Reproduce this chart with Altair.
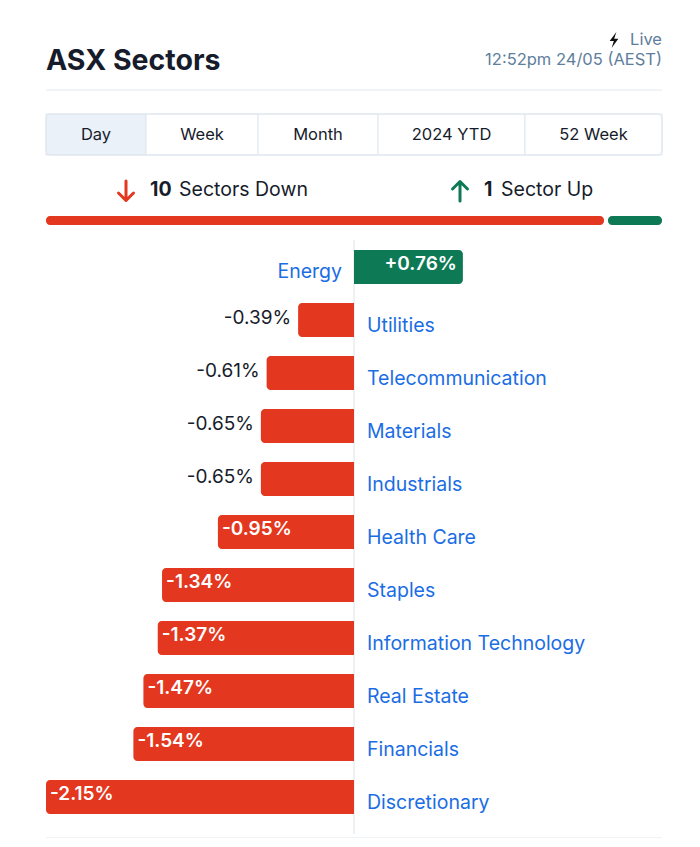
import altair as alt
import pandas as pd

# ---------------- data ----------------
sectors = ["Energy", "Utilities", "Telecommunication", "Materials", "Industrials",
           "Health Care", "Staples", "Information Technology", "Real Estate",
           "Financials", "Discretionary"]
changes = [0.76, -0.39, -0.61, -0.65, -0.65, -0.95, -1.34, -1.37, -1.47, -1.54, -2.15]
tabs = ["Day", "Week", "Month", "2024 YTD", "52 Week"]
tab_edges = [38, 138, 250, 370, 517, 654]   # layout (px)
n_down = sum(1 for v in changes if v < 0)
n_up = sum(1 for v in changes if v > 0)

RED = "#e3371f"
GREEN = "#0e7a55"
BLUE = "#1a6de3"
DARK = "#161c2b"
SLATE = "#5e7e9c"
LINE = "#e3e8ee"
FONT = "Inter"

W, H = 684, 830
LEFT, RIGHT = 38, 654

def fmt(v):
    return f"+{v:.2f}%" if v > 0 else f"{v:.2f}%"

df = pd.DataFrame({
    "sector": sectors,
    "value": changes,
    "row": list(range(len(sectors))),
    "label": [fmt(v) for v in changes],
    "zero": 0.0,
})
half = 0.32
df["y0"] = df["row"] - half
df["y1"] = df["row"] + half

xs = alt.Scale(domain=[-2.15, 0], range=[38, 346], nice=False, zero=False)
ys = alt.Scale(domain=[0, 10], range=[259, 789], nice=False, zero=False)

def X(f):
    return alt.X(f, scale=xs, axis=None)

def Y(f):
    return alt.Y(f, scale=ys, axis=None)

base = alt.Chart(df)

neg_bars = base.transform_filter("datum.value < 0").mark_bar(
    color=RED, cornerRadiusTopLeft=4, cornerRadiusBottomLeft=4
).encode(x=X("value:Q"), x2="zero:Q", y=Y("y0:Q"), y2="y1:Q")

pos_bars = base.transform_filter("datum.value > 0").mark_bar(
    color=GREEN, cornerRadiusTopRight=4, cornerRadiusBottomRight=4
).encode(x=X("value:Q"), x2="zero:Q", y=Y("y0:Q"), y2="y1:Q")

lbl_out = base.transform_filter("datum.value < 0 && datum.value > -0.8").mark_text(
    align="right", baseline="middle", dx=-7, dy=-2, fontSize=19, font=FONT, color=DARK
).encode(x=X("value:Q"), y=Y("row:Q"), text="label:N")

lbl_in = base.transform_filter("datum.value <= -0.8").mark_text(
    align="left", baseline="middle", dx=4, dy=-3, fontSize=19, font=FONT,
    fontWeight=600, color="white"
).encode(x=X("value:Q"), y=Y("row:Q"), text="label:N")

lbl_pos = base.transform_filter("datum.value > 0").mark_text(
    align="right", baseline="middle", dx=-6, dy=-3, fontSize=19, font=FONT,
    fontWeight=600, color="white"
).encode(x=X("value:Q"), y=Y("row:Q"), text="label:N")

cat_neg = base.transform_filter("datum.value < 0").mark_text(
    align="left", baseline="middle", dx=13, dy=6, fontSize=19.5, font=FONT, color=BLUE
).encode(x=X("zero:Q"), y=Y("row:Q"), text="sector:N")

cat_pos = base.transform_filter("datum.value > 0").mark_text(
    align="right", baseline="middle", dx=-12, dy=5, fontSize=19.5, font=FONT, color=BLUE
).encode(x=X("zero:Q"), y=Y("row:Q"), text="sector:N")

zero_rule = alt.Chart(pd.DataFrame({"z": [0.0]})).mark_rule(color="#dde3ea", strokeWidth=1).encode(
    x=X("z:Q"), y=alt.value(232), y2=alt.value(826)
)

one = pd.DataFrame({"a": [0]})

def txt(s, x, y, **kw):
    return alt.Chart(one).mark_text(font=kw.pop("font", FONT), **kw).encode(
        x=alt.value(x), y=alt.value(y), text=alt.value(s))

def hline(x0, x1, y, color=LINE):
    return alt.Chart(one).mark_rule(color=color, strokeWidth=1).encode(
        x=alt.value(x0), x2=alt.value(x1), y=alt.value(y))

def glyph(path, x, y, size, **kw):
    return alt.Chart(one).mark_point(shape=path, size=size, **kw).encode(
        x=alt.value(x), y=alt.value(y))

title = txt("ASX Sectors", LEFT, 62, align="left", baseline="alphabetic",
            fontSize=28.5, fontWeight=700, color=DARK)
live = txt("Live", RIGHT, 32, align="right", baseline="middle", fontSize=16.5, color=SLATE)
BOLT = "M0.3,-1 L-0.55,0.12 L-0.02,0.12 L-0.3,1 L0.55,-0.15 L0.02,-0.15 Z"
bolt = glyph(BOLT, 606, 32, 250, filled=True, color="#111111", strokeWidth=0, opacity=1)
stamp = txt("12:52pm 24/05 (AEST)", RIGHT, 52, align="right", baseline="middle",
            fontSize=16.5, color=SLATE)
sep_top = hline(LEFT, RIGHT, 82)
sep_bot = hline(LEFT, RIGHT, 830)

# tabs
tab_df = pd.DataFrame({
    "tab": tabs,
    "x0": tab_edges[:-1],
    "x1": tab_edges[1:],
})
tab_df["xc"] = (tab_df["x0"] + tab_df["x1"]) / 2
tab_df["fill"] = ["#eaf1f9"] + ["#ffffff"] * (len(tabs) - 1)
tab_rects = alt.Chart(tab_df).mark_rect(stroke="#dfe6ee", strokeWidth=1).encode(
    x=alt.X("x0:Q", scale=None, axis=None), x2="x1:Q",
    y=alt.value(106), y2=alt.value(147),
    fill=alt.Fill("fill:N", scale=None),
)
tab_box = alt.Chart(one).mark_rect(fill=None, stroke="#dfe6ee", strokeWidth=1, cornerRadius=5).encode(
    x=alt.value(LEFT), x2=alt.value(RIGHT), y=alt.value(106), y2=alt.value(147))
tab_text = alt.Chart(tab_df).mark_text(font=FONT, fontSize=16.5, color=DARK, baseline="middle").encode(
    x=alt.X("xc:Q", scale=None, axis=None), y=alt.value(127), text="tab:N")

# summary
ARROW_DN = "M0,-1 L0,0.95 M-0.75,0.2 L0,0.95 L0.75,0.2"
ARROW_UP = "M0,1 L0,-0.95 M-0.75,-0.2 L0,-0.95 L0.75,-0.2"
arrow_dn = glyph(ARROW_DN, 118, 183, 400, filled=False, color=RED, strokeWidth=3,
                 strokeCap="round", strokeJoin="round", opacity=1)
arrow_up = glyph(ARROW_UP, 452, 183, 400, filled=False, color=GREEN, strokeWidth=3,
                 strokeCap="round", strokeJoin="round", opacity=1)
n_dn_t = txt(str(n_down), 142, 182, align="left", baseline="middle", fontSize=19.5,
             fontWeight=700, color=DARK)
dn_t = txt("Sectors Down", 171, 182, align="left", baseline="middle", fontSize=19.5, color=DARK)
n_up_t = txt(str(n_up), 476, 182, align="left", baseline="middle", fontSize=19.5,
             fontWeight=700, color=DARK)
up_t = txt("Sector Up" if n_up == 1 else "Sectors Up", 493, 182, align="left",
           baseline="middle", fontSize=19.5, color=DARK)

total = RIGHT - LEFT
split = LEFT + total * n_down / (n_down + n_up)
prog = pd.DataFrame({
    "x0": [LEFT, split + 2],
    "x1": [split - 2, RIGHT],
    "c": [RED, GREEN],
})
prog_bar = alt.Chart(prog).mark_bar(cornerRadius=4).encode(
    x=alt.X("x0:Q", scale=None, axis=None), x2="x1:Q",
    y=alt.value(208), y2=alt.value(217),
    color=alt.Color("c:N", scale=None),
)

chart = alt.layer(
    title, live, bolt, stamp, sep_top,
    tab_rects, tab_box, tab_text,
    arrow_dn, n_dn_t, dn_t, arrow_up, n_up_t, up_t, prog_bar,
    zero_rule, neg_bars, pos_bars, lbl_out, lbl_in, lbl_pos, cat_neg, cat_pos,
    sep_bot,
).resolve_scale(x="independent", y="independent").properties(
    width=W, height=H, padding=0, autosize=alt.AutoSizeParams(type="none"),
    background="white",
).configure_view(stroke=None)

chart.save("out.html", embed_options={"renderer": "svg", "actions": False})
